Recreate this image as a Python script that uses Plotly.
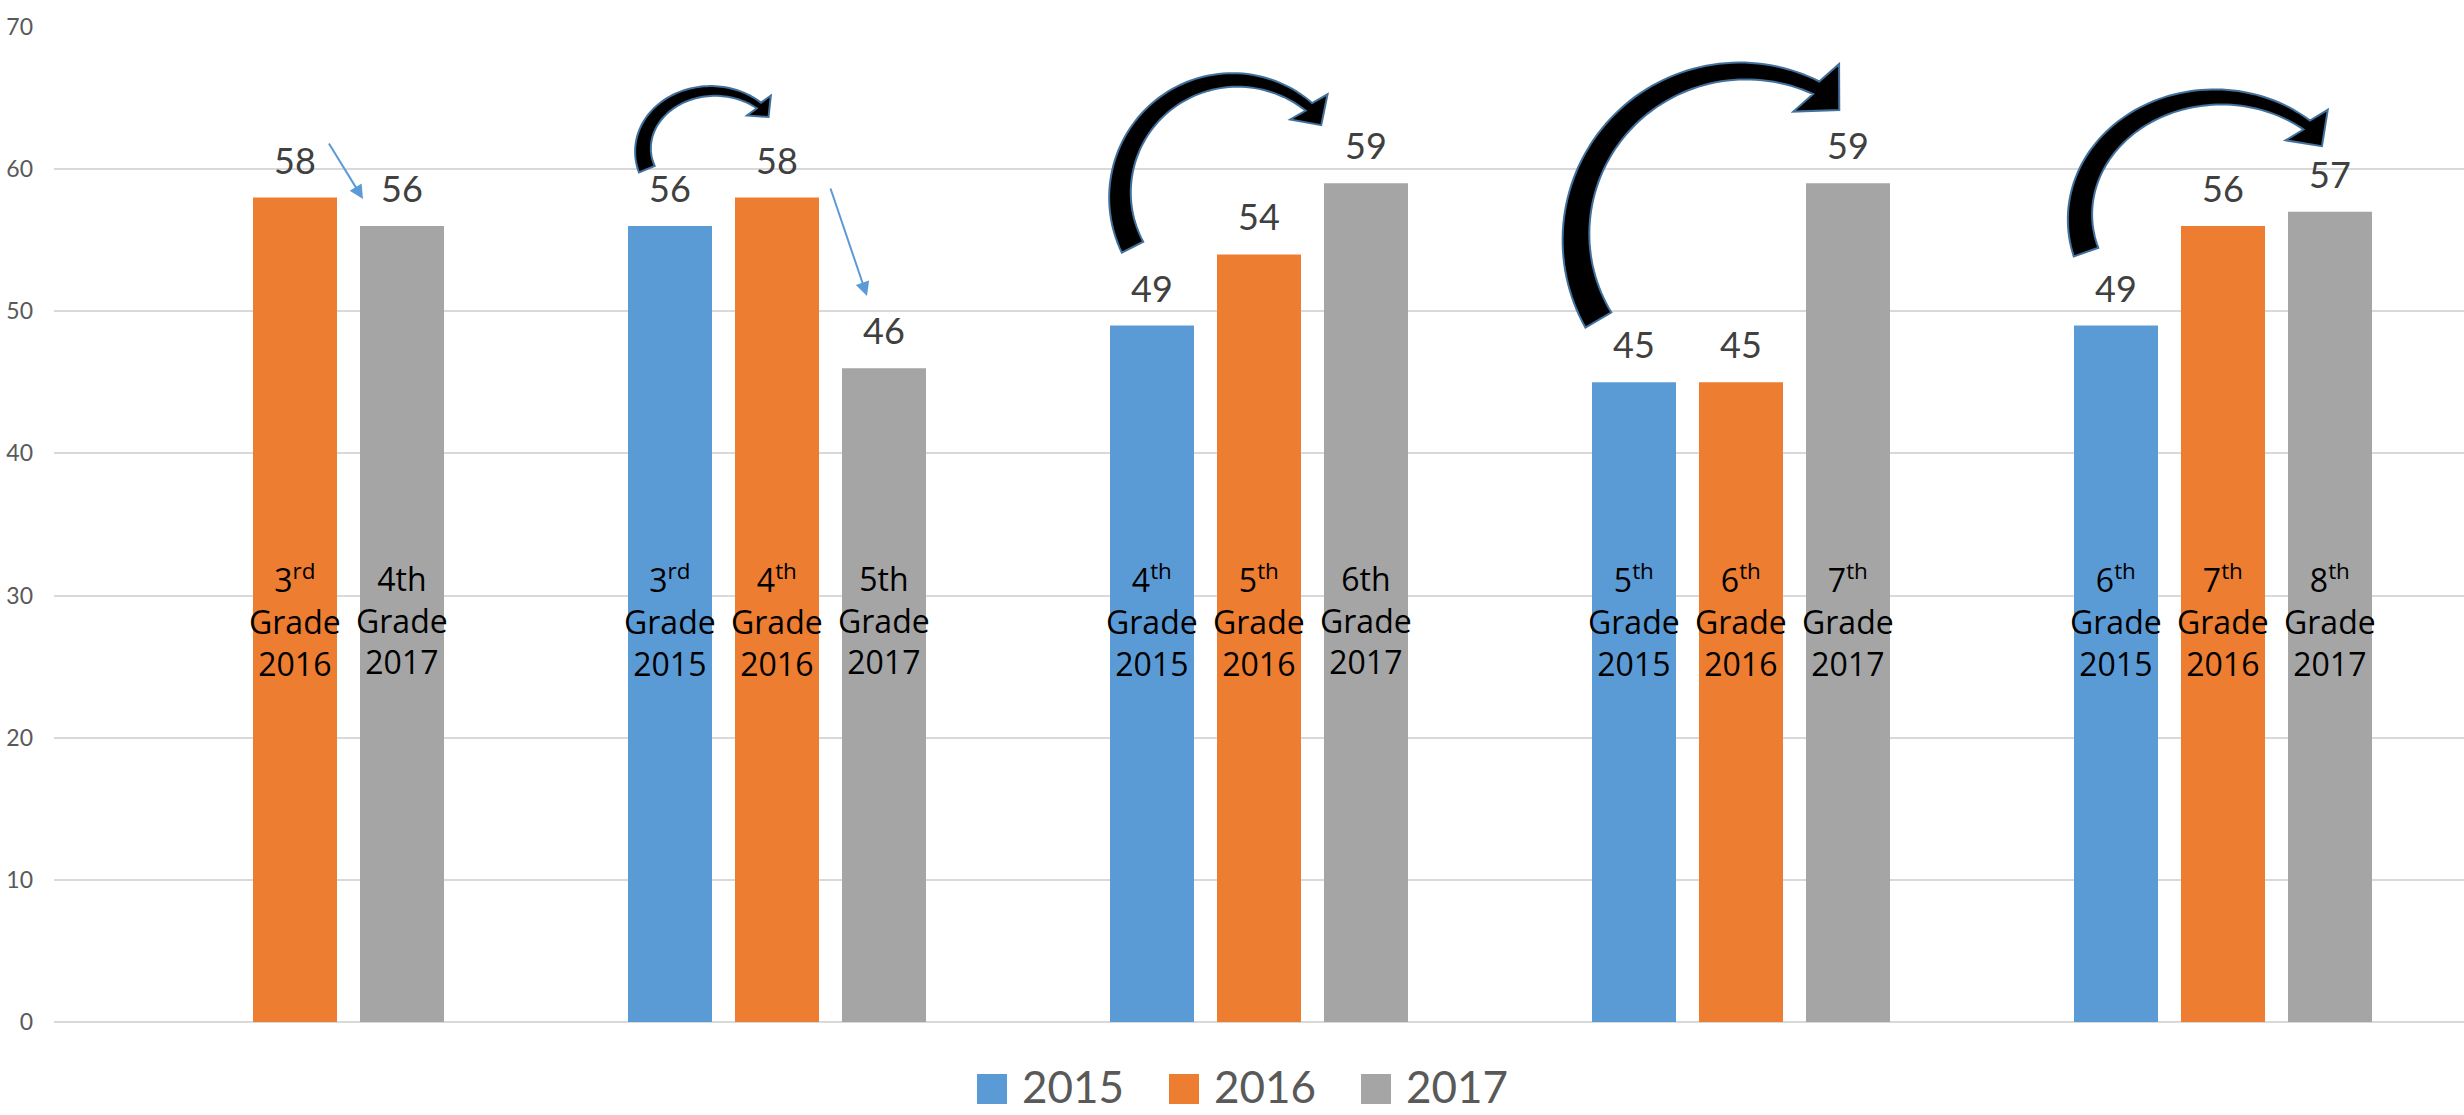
import numpy as np
import plotly.graph_objects as go

# ---------------- data ----------------
cohorts = ["Cohort A", "Cohort B", "Cohort C", "Cohort D", "Cohort E"]
years = ["2015", "2016", "2017"]
scores_2015 = [None, 56, 49, 45, 49]
scores_2016 = [58, 58, 54, 45, 56]
scores_2017 = [56, 46, 59, 59, 57]
grades_2015 = [None, "3<sup>rd</sup>", "4<sup>th</sup>", "5<sup>th</sup>", "6<sup>th</sup>"]
grades_2016 = ["3<sup>rd</sup>", "4<sup>th</sup>", "5<sup>th</sup>", "6<sup>th</sup>", "7<sup>th</sup>"]
grades_2017 = ["4th", "5th", "6th", "7<sup>th</sup>", "8<sup>th</sup>"]
y_ticks = [0, 10, 20, 30, 40, 50, 60, 70]

colors = ["#5B9BD5", "#ED7D31", "#A5A5A5"]

# ---------------- layout constants ----------------
W, H = 2464, 1115
M_L, M_R, M_T, M_B = 54, 0, 27, 93
PW, PH = W - M_L - M_R, H - M_T - M_B
Y_MAX = 70
BARGAP = 0.334
BARGROUPGAP = 0.215
CAT_PX = PW / len(cohorts)
SLOT_PX = (1 - BARGAP) / len(years) * CAT_PX
GRADE_LABEL_Y = 28.3

series = [scores_2015, scores_2016, scores_2017]
grades = [grades_2015, grades_2016, grades_2017]


def to_paper(px, py):
    return (px - M_L) / PW, (H - M_B - py) / PH


fig = go.Figure()
for yr, vals, col in zip(years, series, colors):
    fig.add_trace(go.Bar(x=cohorts, y=vals, name=yr, marker=dict(color=col, line=dict(width=0)),
                         showlegend=False, hoverinfo="x+y+name"))

annotations = []
for j, (vals, glabels) in enumerate(zip(series, grades)):
    shift = (j - (len(years) - 1) / 2) * SLOT_PX
    for c, v, g in zip(cohorts, vals, glabels):
        if v is None:
            continue
        annotations.append(dict(x=c, y=v, xref="x", yref="y", text=str(v), showarrow=False,
                                xshift=shift, yshift=38, yanchor="middle",
                                font=dict(family="Lato", size=36, color="#404040")))
        annotations.append(dict(x=c, y=GRADE_LABEL_Y, xref="x", yref="y",
                                text=f"{g}<br>Grade<br>{years[j]}", showarrow=False,
                                xshift=shift, yanchor="middle", align="center",
                                font=dict(family="Open Sans", size=32, color="#000000")))

# thin blue arrows (tail -> tip, in pixels)
thin_arrows = [((328, 142), (363, 199)), ((830, 187), (867, 296))]
for (tx, ty), (hx, hy) in thin_arrows:
    xp, yp = to_paper(hx, hy)
    annotations.append(dict(x=xp, y=yp, xref="paper", yref="paper", text="", showarrow=True,
                            ax=tx - hx, ay=ty - hy, axref="pixel", ayref="pixel",
                            arrowhead=2, arrowsize=1.4, arrowwidth=2, arrowcolor="#5B9BD5",
                            standoff=0, startstandoff=0))

# manual legend
legend_x0 = 977
legend_pitch = 192
legend_cy = 1089
shapes = []
for i, (yr, col) in enumerate(zip(years, colors)):
    sx = legend_x0 + i * legend_pitch
    x0, y0 = to_paper(sx, legend_cy + 15)
    x1, y1 = to_paper(sx + 30, legend_cy - 15)
    shapes.append(dict(type="rect", xref="paper", yref="paper", x0=x0, y0=y0, x1=x1, y1=y1,
                       fillcolor=col, line=dict(width=0)))
    tx, ty = to_paper(sx + 44, legend_cy - 3)
    annotations.append(dict(x=tx, y=ty, xref="paper", yref="paper", text=yr, showarrow=False,
                            xanchor="left", yanchor="middle", borderpad=0,
                            font=dict(family="Lato", size=44, color="#595959")))


def arc_arrow_path(cx, cy, rx, ry, t0, t1, w0, w1, hw, hl, rot, n=70):
    ts = np.radians(np.linspace(t0, t1, n))
    xs = cx + rx * np.cos(ts)
    ys = cy - ry * np.sin(ts)
    tx = rx * np.sin(ts)
    ty = ry * np.cos(ts)
    nr = np.hypot(tx, ty)
    tx, ty = tx / nr, ty / nr
    nx, ny = ty, -tx
    w = w0 + (w1 - w0) * np.linspace(0, 1, n)
    ox, oy = xs + nx * w / 2, ys + ny * w / 2
    ix, iy = xs - nx * w / 2, ys - ny * w / 2
    a = np.arctan2(ty[-1], tx[-1]) + np.radians(rot)
    ux, uy = np.cos(a), np.sin(a)
    hnx, hny = uy, -ux
    bx, by = xs[-1], ys[-1]
    head = [(bx + hnx * hw / 2, by + hny * hw / 2), (bx + ux * hl, by + uy * hl),
            (bx - hnx * hw / 2, by - hny * hw / 2)]
    pts = list(zip(ox, oy)) + head + list(zip(ix[::-1], iy[::-1]))
    pp = [to_paper(px, py) for px, py in pts]
    return "M " + " L ".join(f"{x:.5f},{y:.5f}" for x, y in pp) + " Z"


curved = [
    dict(cx=713, cy=150, rx=70, ry=59, t0=199, t1=49, w0=17, w1=7, hw=31, hl=15, rot=14),
    dict(cx=1235, cy=195, rx=115, ry=115, t0=207, t1=50, w0=24, w1=10, hw=45, hl=22, rot=16),
    dict(cx=1743, cy=237, rx=167, ry=166, t0=210, t1=64, w0=30, w1=14, hw=66, hl=32, rot=18),
    dict(cx=2218, cy=217, rx=138, ry=120, t0=197, t1=50, w0=26, w1=11, hw=52, hl=26, rot=18),
]
for a in curved:
    shapes.append(dict(type="path", xref="paper", yref="paper", path=arc_arrow_path(**a),
                       fillcolor="#000000", line=dict(color="#41719C", width=2), layer="above"))

fig.update_layout(
    width=W, height=H,
    margin=dict(l=M_L, r=M_R, t=M_T, b=M_B, autoexpand=False),
    paper_bgcolor="white", plot_bgcolor="white",
    barmode="group", bargap=BARGAP, bargroupgap=BARGROUPGAP,
    showlegend=False,
    xaxis=dict(showticklabels=False, showgrid=False, showline=False, zeroline=False, ticks=""),
    yaxis=dict(range=[0, Y_MAX], tickvals=y_ticks, showgrid=True, gridcolor="#D9D9D9", gridwidth=2,
               zeroline=True, zerolinecolor="#D9D9D9", zerolinewidth=2, showline=False, ticks="",
               ticklabelstandoff=20, tickfont=dict(family="Lato", size=23, color="#595959")),
    annotations=annotations,
    shapes=shapes,
)

fig.write_html("out.html", config={"displayModeBar": False},
               post_script="document.body.style.margin='0';document.body.style.overflow='hidden';")
